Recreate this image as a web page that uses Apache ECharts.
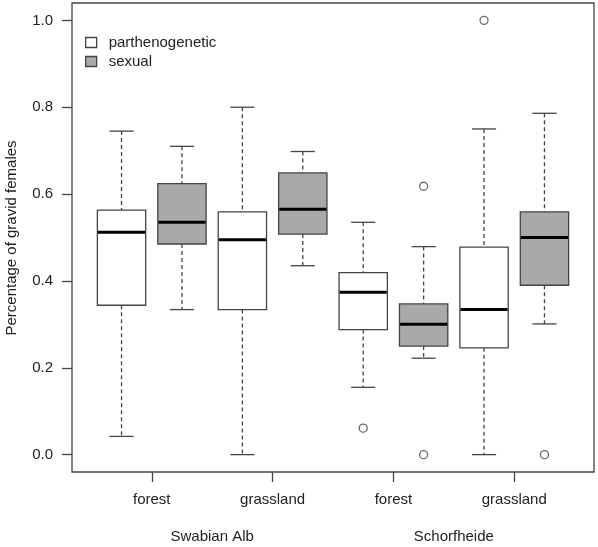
<!DOCTYPE html>
<html>
<head>
<meta charset="utf-8">
<script src="https://cdn.jsdelivr.net/npm/echarts@6/dist/echarts.min.js"></script>
<style>
html,body{margin:0;padding:0;background:#fff;}
#chart{width:598px;height:547px;}
</style>
</head>
<body>
<div id="chart"></div>
<script>
// ---- data ----
var habitats = ['forest', 'grassland', 'forest', 'grassland'];
var regions = ['Swabian Alb', 'Schorfheide'];
var yTicks = [0.0, 0.2, 0.4, 0.6, 0.8, 1.0];
// [lower whisker, Q1, median, Q3, upper whisker]
var parthStats = [
  [0.042, 0.344, 0.512, 0.563, 0.745],
  [0.000, 0.334, 0.495, 0.559, 0.800],
  [0.155, 0.288, 0.374, 0.419, 0.535],
  [0.000, 0.246, 0.334, 0.478, 0.750]
];
var sexualStats = [
  [0.334, 0.485, 0.535, 0.624, 0.710],
  [0.435, 0.508, 0.565, 0.649, 0.698],
  [0.222, 0.250, 0.300, 0.347, 0.479],
  [0.301, 0.390, 0.500, 0.559, 0.786]
];
var parthOutliers = [[], [], [0.061], [1.0]];
var sexualOutliers = [[], [], [0.618, 0.0], [0.0]];

// ---- build ----
var BOXW = 0.8;
function boxData(stats, offset) {
  return stats.map(function (s, i) { return [2 * i + offset].concat(s); });
}
function outData(outs, offset) {
  var r = [];
  outs.forEach(function (arr, i) { arr.forEach(function (v) { r.push([2 * i + offset, v]); }); });
  return r;
}
var edge = '#444';
function renderBox(fill) {
  return function (params, api) {
    var x = api.value(0);
    var lo = api.coord([x - BOXW / 2, api.value(1)]);
    var q1 = api.coord([x - BOXW / 2, api.value(2)]);
    var md = api.coord([x - BOXW / 2, api.value(3)]);
    var q3 = api.coord([x - BOXW / 2, api.value(4)]);
    var hi = api.coord([x - BOXW / 2, api.value(5)]);
    var right = api.coord([x + BOXW / 2, 0])[0];
    var cx = api.coord([x, 0])[0];
    var left = lo[0];
    var w = right - left;
    var cap = w / 4;
    var dash = { stroke: edge, lineWidth: 1.3, lineDash: [4, 3] };
    var solid = { stroke: edge, lineWidth: 1.3 };
    return {
      type: 'group',
      children: [
        { type: 'line', shape: { x1: cx, y1: hi[1], x2: cx, y2: q3[1] }, style: dash },
        { type: 'line', shape: { x1: cx, y1: q1[1], x2: cx, y2: lo[1] }, style: dash },
        { type: 'line', shape: { x1: cx - cap, y1: hi[1], x2: cx + cap, y2: hi[1] }, style: solid },
        { type: 'line', shape: { x1: cx - cap, y1: lo[1], x2: cx + cap, y2: lo[1] }, style: solid },
        { type: 'rect', shape: { x: left, y: q3[1], width: w, height: q1[1] - q3[1] },
          style: { fill: fill, stroke: edge, lineWidth: 1.3 } },
        { type: 'line', shape: { x1: left + 0.6, y1: md[1], x2: right - 0.6, y2: md[1] },
          style: { stroke: '#000', lineWidth: 3 } }
      ]
    };
  };
}
var chart = echarts.init(document.getElementById('chart'), null, { renderer: 'canvas' });
var font = 'Liberation Sans, Arial, sans-serif';
var FS = 15;
var option = {
  animation: false,
  backgroundColor: '#fff',
  grid: { left: 72, top: 3, right: 4, bottom: 75, show: true, borderColor: '#444', borderWidth: 1.3, backgroundColor: 'transparent' },
  legend: {
    orient: 'vertical', left: 85, top: 35, padding: 0, itemWidth: 11, itemHeight: 10, itemGap: 4,
    textStyle: { fontSize: FS, fontFamily: font, color: '#222', padding: [0, 0, 0, 7] },
    data: [
      { name: 'parthenogenetic', icon: 'rect', itemStyle: { color: '#fff', borderColor: edge, borderWidth: 1.3 } },
      { name: 'sexual', icon: 'rect', itemStyle: { color: '#a9a9a9', borderColor: edge, borderWidth: 1.3 } }
    ]
  },
  xAxis: [
    {
      type: 'value', min: 0.18, max: 8.82, position: 'bottom',
      axisLine: { show: false, onZero: false }, splitLine: { show: false },
      axisTick: { show: true, inside: false, length: 10, customValues: [1.5, 3.5, 5.5, 7.5], lineStyle: { color: '#444', width: 1.3 } },
      axisLabel: { customValues: [1.5, 3.5, 5.5, 7.5], margin: 20, fontSize: FS, fontFamily: font, color: '#222',
        formatter: function (v) { return habitats[Math.round((v - 1.5) / 2)]; } }
    },
    {
      type: 'value', min: 0.18, max: 8.82, position: 'bottom',
      axisLine: { show: false, onZero: false }, splitLine: { show: false }, axisTick: { show: false },
      axisLabel: { customValues: [2.5, 6.5], margin: 57, fontSize: FS, fontFamily: font, color: '#222',
        formatter: function (v) { return regions[Math.round((v - 2.5) / 4)]; } }
    }
  ],
  yAxis: {
    type: 'value', min: -0.04, max: 1.04,
    axisLine: { show: false, onZero: false }, splitLine: { show: false },
    axisTick: { show: true, inside: false, length: 10, customValues: yTicks, lineStyle: { color: '#444', width: 1.3 } },
    axisLabel: { customValues: yTicks, margin: 19, fontSize: FS, fontFamily: font, color: '#222',
      formatter: function (v) { return v.toFixed(1); } }
  },
  graphic: [
    { type: 'text', x: 12, y: 238, rotation: Math.PI / 2,
      style: { text: 'Percentage of gravid females', fontSize: FS, fontFamily: font, fill: '#222', align: 'center', verticalAlign: 'middle' } }
  ],
  series: [
    { name: 'parthenogenetic', type: 'custom', xAxisIndex: 0, renderItem: renderBox('#fff'),
      itemStyle: { color: '#fff', borderColor: edge }, data: boxData(parthStats, 1),
      encode: { x: 0, y: [1, 2, 3, 4, 5] } },
    { name: 'sexual', type: 'custom', xAxisIndex: 0, renderItem: renderBox('#a9a9a9'),
      itemStyle: { color: '#a9a9a9', borderColor: edge }, data: boxData(sexualStats, 2),
      encode: { x: 0, y: [1, 2, 3, 4, 5] } },
    { name: 'parthOut', type: 'scatter', symbol: 'circle', symbolSize: 8, data: outData(parthOutliers, 1),
      itemStyle: { color: '#fff', borderColor: edge, borderWidth: 1.3 } },
    { name: 'sexOut', type: 'scatter', symbol: 'circle', symbolSize: 8, data: outData(sexualOutliers, 2),
      itemStyle: { color: '#fff', borderColor: edge, borderWidth: 1.3 } }
  ]
};
chart.setOption(option);
</script>
</body>
</html>
